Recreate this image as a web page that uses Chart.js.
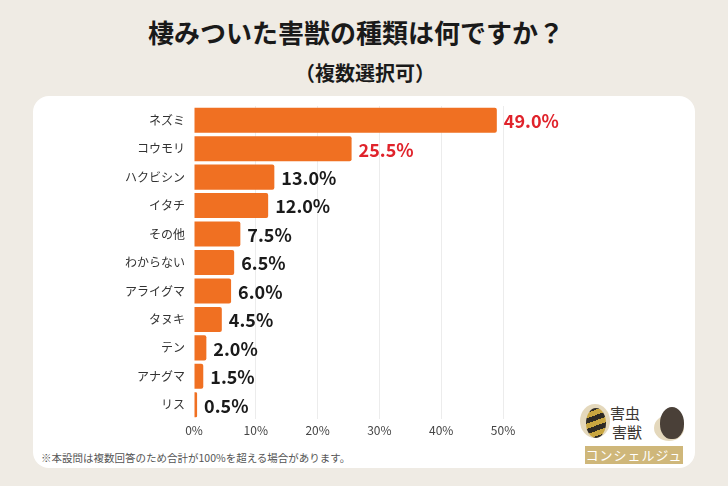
<!DOCTYPE html>
<html>
<head>
<meta charset="utf-8">
<script src="https://cdn.jsdelivr.net/npm/chart.js@4.4.0/dist/chart.umd.min.js"></script>
<style>
  html, body { margin: 0; padding: 0; }
  body {
    width: 728px; height: 486px; position: relative; overflow: hidden;
    background: #efebe4;
    font-family: "Noto Sans CJK JP", "Noto Sans", sans-serif;
  }
  .panel {
    position: absolute; left: 33px; top: 96px; width: 662px; height: 372px;
    background: #ffffff; border-radius: 16px;
  }
  .title {
    position: absolute; left: 0; width: 712px; top: 13px; text-align: center;
    font-size: 26px; font-weight: 700; color: #1a1a1a;
  }
  .subtitle {
    position: absolute; left: 0; width: 730px; top: 58px; text-align: center;
    font-size: 20px; font-weight: 700; color: #1a1a1a;
  }
  .note {
    position: absolute; left: 41px; top: 450px;
    font-size: 10.5px; color: #555;
  }
  .wrap { position: absolute; left: 0; top: 0; width: 728px; height: 486px; }
  .logo-txt { position: absolute; font-size: 15px; color: #3a3530; line-height: 1; }
  .logo-box {
    position: absolute; left: 585px; top: 446px; width: 98px; height: 18px;
    background: #cfb77a; color: #fff; font-size: 13px; text-align: center; line-height: 18px;
    letter-spacing: 1px;
  }
</style>
</head>
<body>
<div class="panel"></div>
<div class="title">棲みついた害獣の種類は何ですか？</div>
<div class="subtitle">（複数選択可）</div>
<div class="note">※本設問は複数回答のため合計が100%を超える場合があります。</div>

<div style="position:absolute;left:580px;top:404px;width:30px;height:34px;border-radius:50%;background:#d9c8a0;opacity:.7"></div>
<div style="position:absolute;left:586px;top:408px;width:20px;height:30px;border-radius:50%;background:repeating-linear-gradient(160deg,#2e2a24 0 5px,#c9a640 5px 10px)"></div>
<div class="logo-txt" style="left:610px;top:405px">害虫</div>
<div class="logo-txt" style="left:612px;top:424px">害獣</div>
<div style="position:absolute;left:654px;top:415px;width:30px;height:26px;border-radius:50%;background:#d9c8a0;opacity:.7"></div>
<div style="position:absolute;left:660px;top:407px;width:24px;height:32px;border-radius:50% 50% 45% 45%;background:#4a4038"></div>
<div class="logo-box">コンシェルジュ</div>

<div class="wrap"><canvas id="chart"></canvas></div>

<script>
const categories = ["ネズミ", "コウモリ", "ハクビシン", "イタチ", "その他", "わからない", "アライグマ", "タヌキ", "テン", "アナグマ", "リス"];
const percentValues = [49.0, 25.5, 13.0, 12.0, 7.5, 6.5, 6.0, 4.5, 2.0, 1.5, 0.5];
const xTicks = [0, 10, 20, 30, 40, 50];

const barColor = "#f07022";
const highlightColor = "#e0232b";
const labelColor = "#1a1a1a";

// value labels at bar end
const valueLabels = {
  id: "valueLabels",
  afterDatasetsDraw(chart) {
    const ctx = chart.ctx;
    const meta = chart.getDatasetMeta(0);
    ctx.save();
    ctx.font = "700 18px 'Noto Sans CJK JP', 'Noto Sans', sans-serif";
    ctx.textAlign = "left";
    ctx.textBaseline = "middle";
    meta.data.forEach((bar, i) => {
      ctx.fillStyle = i < 2 ? highlightColor : labelColor;
      ctx.fillText(percentValues[i].toFixed(1) + "%", bar.x + 7, bar.y + 1);
    });
    ctx.restore();
  }
};

const ctx = document.getElementById("chart").getContext("2d");
new Chart(ctx, {
  type: "bar",
  data: {
    labels: categories,
    datasets: [{
      data: percentValues,
      backgroundColor: barColor,
      borderRadius: 2,
      borderSkipped: "left",
      barPercentage: 0.88,
      categoryPercentage: 1.0,
    }],
  },
  options: {
    indexAxis: "y",
    responsive: true,
    maintainAspectRatio: false,
    animation: false,
    layout: { padding: { left: 40, right: 225, top: 106, bottom: 47 } },
    plugins: {
      legend: { display: false },
      tooltip: { enabled: false },
    },
    scales: {
      x: {
        min: 0,
        max: 50,
        afterBuildTicks: (scale) => { scale.ticks = xTicks.map((v) => ({ value: v })); },
        afterFit: (scale) => { scale.height = 20; },
        ticks: {
          padding: 4,
          color: "#444",
          font: { size: 12, family: "'Noto Sans CJK JP', 'Noto Sans', sans-serif" },
          callback: (v) => v + "%",
        },
        grid: {
          color: (c) => (c.tick && c.tick.value === 0 ? "rgba(0,0,0,0)" : "#ececec"),
          drawTicks: false,
        },
        border: { display: false },
      },
      y: {
        afterFit: (scale) => { scale.width = 154; },
        ticks: {
          padding: 9,
          color: "#333",
          font: { size: 12, family: "'Noto Sans CJK JP', 'Noto Sans', sans-serif" },
        },
        grid: { display: false, drawTicks: false },
        border: { display: false },
      },
    },
  },
  plugins: [valueLabels],
});
</script>
</body>
</html>
